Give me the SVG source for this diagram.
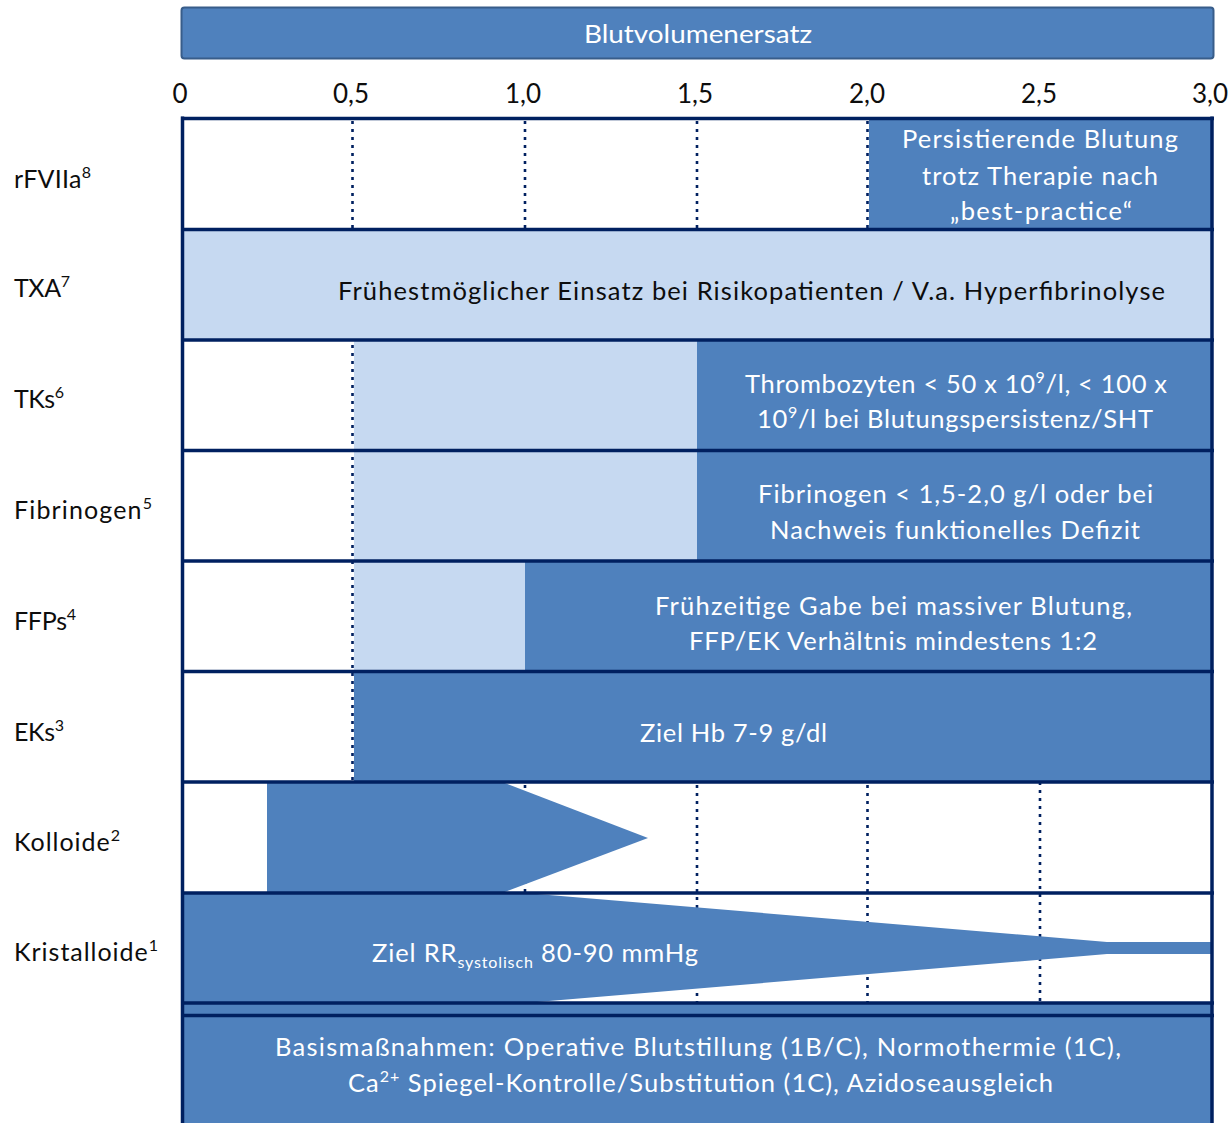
<svg xmlns="http://www.w3.org/2000/svg" width="1231" height="1123" viewBox="0 0 1231 1123">
<defs>
<style>
text{font-family:Lato,"Open Sans","Liberation Sans",sans-serif;font-size:25.5px}
.w{fill:#ffffff}
.k{fill:#0d0d0d}
.lab{fill:#0d0d0d;font-size:25px}
.sup{font-size:16px}
.dark{fill:#4f81bd}
.light{fill:#c6d9f1}
.grid{stroke:#002060;stroke-width:2.6;stroke-dasharray:3 5;fill:none}
.bd{stroke:#002060;stroke-width:3.5;fill:none}
.ax{fill:#0d0d0d;font-size:26px;text-anchor:middle}
</style>
</defs>
<rect width="1231" height="1123" fill="#ffffff"/>

<g id="header">
<rect x="181.5" y="7.5" width="1032" height="51" rx="3" fill="#4f81bd" stroke="#385d8a" stroke-width="2"/>
<text class="w" x="584" y="43" textLength="228" lengthAdjust="spacingAndGlyphs">Blutvolumenersatz</text>
</g>

<g id="axis">
<text class="ax" x="180" y="103">0</text>
<text class="ax" x="351" y="103">0,5</text>
<text class="ax" x="523" y="103">1,0</text>
<text class="ax" x="695" y="103">1,5</text>
<text class="ax" x="867" y="103">2,0</text>
<text class="ax" x="1039" y="103">2,5</text>
<text class="ax" x="1210" y="103">3,0</text>
</g>

<g id="labels">
<text class="lab" x="14" y="188" textLength="77" lengthAdjust="spacing">rFVIIa<tspan class="sup" dy="-10">8</tspan></text>
<text class="lab" x="14" y="297" textLength="56" lengthAdjust="spacing">TXA<tspan class="sup" dy="-10">7</tspan></text>
<text class="lab" x="14" y="408" textLength="50" lengthAdjust="spacing">TKs<tspan class="sup" dy="-10">6</tspan></text>
<text class="lab" x="14" y="519" textLength="138" lengthAdjust="spacing">Fibrinogen<tspan class="sup" dy="-10">5</tspan></text>
<text class="lab" x="14" y="630" textLength="62" lengthAdjust="spacing">FFPs<tspan class="sup" dy="-10">4</tspan></text>
<text class="lab" x="14" y="741" textLength="50" lengthAdjust="spacing">EKs<tspan class="sup" dy="-10">3</tspan></text>
<text class="lab" x="14" y="851" textLength="106" lengthAdjust="spacing">Kolloide<tspan class="sup" dy="-10">2</tspan></text>
<text class="lab" x="14" y="961" textLength="144" lengthAdjust="spacing">Kristalloide<tspan class="sup" dy="-10">1</tspan></text>
</g>

<g id="grid">
<line class="grid" x1="352.5" y1="121" x2="352.5" y2="1002"/>
<line class="grid" x1="525" y1="121" x2="525" y2="1002"/>
<line class="grid" x1="697" y1="121" x2="697" y2="1002"/>
<line class="grid" x1="867.5" y1="121" x2="867.5" y2="1002"/>
<line class="grid" x1="1040" y1="782" x2="1040" y2="1002"/>
</g>

<g id="row-rFVIIa">
<rect class="dark" x="869" y="118" width="343" height="111.5"/>
<text class="w" x="902" y="148" textLength="276" lengthAdjust="spacing">Persistierende Blutung</text>
<text class="w" x="922" y="185" textLength="236" lengthAdjust="spacing">trotz Therapie nach</text>
<text class="w" x="950" y="220" textLength="182" lengthAdjust="spacing">„best-practice“</text>
</g>

<g id="row-TXA">
<rect class="light" x="182" y="229.5" width="1030" height="110.5"/>
<text class="k" x="338" y="300" textLength="827" lengthAdjust="spacing">Frühestmöglicher Einsatz bei Risikopatienten / V.a. Hyperfibrinolyse</text>
</g>

<g id="row-TKs">
<rect class="light" x="354" y="340" width="343" height="110.5"/>
<rect class="dark" x="697" y="340" width="515" height="110.5"/>
<text class="w" x="745" y="393" textLength="422" lengthAdjust="spacing">Thrombozyten &lt; 50 x 10<tspan class="sup" dy="-10">9</tspan><tspan dy="10">/l, &lt; 100 x</tspan></text>
<text class="w" x="757" y="428" textLength="396" lengthAdjust="spacing">10<tspan class="sup" dy="-10">9</tspan><tspan dy="10">/l bei Blutungspersistenz/SHT</tspan></text>
</g>

<g id="row-Fibrinogen">
<rect class="light" x="354" y="450.5" width="343" height="110.5"/>
<rect class="dark" x="697" y="450.5" width="515" height="110.5"/>
<text class="w" x="758" y="503" textLength="395" lengthAdjust="spacing">Fibrinogen &lt; 1,5-2,0 g/l oder bei</text>
<text class="w" x="770" y="539" textLength="370" lengthAdjust="spacing">Nachweis funktionelles Defizit</text>
</g>

<g id="row-FFPs">
<rect class="light" x="354" y="561" width="171" height="110.5"/>
<rect class="dark" x="525" y="561" width="687" height="110.5"/>
<text class="w" x="655" y="615" textLength="477" lengthAdjust="spacing">Frühzeitige Gabe bei massiver Blutung,</text>
<text class="w" x="689" y="650" textLength="408" lengthAdjust="spacing">FFP/EK Verhältnis mindestens 1:2</text>
</g>

<g id="row-EKs">
<rect class="dark" x="354" y="671.5" width="858" height="110.5"/>
<text class="w" x="640" y="742" textLength="187" lengthAdjust="spacing">Ziel Hb 7-9 g/dl</text>
</g>

<g id="row-Kolloide">
<polygon class="dark" points="267,782 502,782 648,838 502,893 267,893"/>
</g>

<g id="row-Kristalloide">
<polygon class="dark" points="182,893 525,893 1107,942 1212,942 1212,954 1107,954 525,1003 182,1003"/>
<text class="w" x="372" y="962" textLength="326" lengthAdjust="spacing">Ziel RR<tspan class="sup" font-size="17" dy="6">systolisch</tspan><tspan dy="-6"> 80-90 mmHg</tspan></text>
</g>

<g id="row-Basis">
<rect class="dark" x="182" y="1003" width="1030" height="125"/>
<text class="w" x="275" y="1056" textLength="846" lengthAdjust="spacing">Basismaßnahmen: Operative Blutstillung (1B/C), Normothermie (1C),</text>
<text class="w" x="348" y="1092" textLength="705" lengthAdjust="spacing">Ca<tspan class="sup" dy="-10">2+</tspan><tspan dy="10"> Spiegel-Kontrolle/Substitution (1C), Azidoseausgleich</tspan></text>
</g>

<g id="borders">
<line class="bd" x1="182.5" y1="116.5" x2="182.5" y2="1123"/>
<line class="bd" x1="1212" y1="116.5" x2="1212" y2="1123"/>
<line class="bd" x1="181" y1="118.5" x2="1214" y2="118.5"/>
<line class="bd" x1="181" y1="229.5" x2="1214" y2="229.5"/>
<line class="bd" x1="181" y1="340" x2="1214" y2="340"/>
<line class="bd" x1="181" y1="450.5" x2="1214" y2="450.5"/>
<line class="bd" x1="181" y1="561" x2="1214" y2="561"/>
<line class="bd" x1="181" y1="671.5" x2="1214" y2="671.5"/>
<line class="bd" x1="181" y1="782" x2="1214" y2="782"/>
<line class="bd" x1="181" y1="893" x2="1214" y2="893"/>
<line class="bd" x1="181" y1="1003" x2="1214" y2="1003"/>
<line class="bd" x1="181" y1="1015.5" x2="1214" y2="1015.5"/>
</g>
</svg>
